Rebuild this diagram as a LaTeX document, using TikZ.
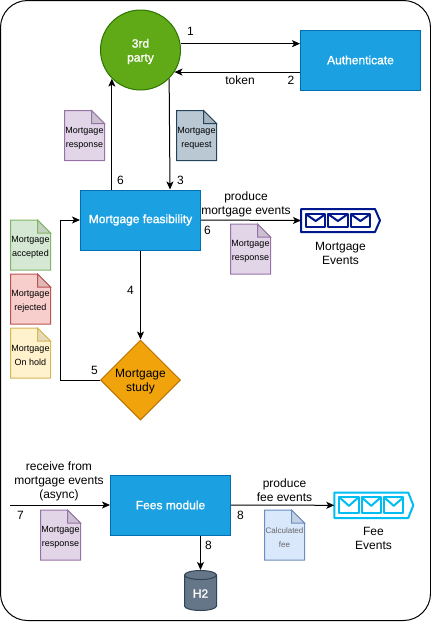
\documentclass[tikz,border=0pt]{standalone}
\usepackage{fontspec}
\setmainfont{Liberation Sans}
\newfontfamily\heavyfont[FakeBold=1.3]{Liberation Sans}
\usetikzlibrary{arrows.meta,shapes.geometric}

\definecolor{partyfill}{HTML}{60A917}
\definecolor{partyline}{HTML}{2D7600}
\definecolor{boxfill}{HTML}{1BA1E2}
\definecolor{boxline}{HTML}{006EAF}
\definecolor{studyfill}{HTML}{F0A30A}
\definecolor{studyline}{HTML}{BD7000}
\definecolor{dbfill}{HTML}{647687}
\definecolor{dbline}{HTML}{314354}
\definecolor{purplefill}{HTML}{E1D5E7}
\definecolor{purpleline}{HTML}{9673A6}
\definecolor{slatefill}{HTML}{BAC8D3}
\definecolor{slateline}{HTML}{23445D}
\definecolor{greenfill}{HTML}{D5E8D4}
\definecolor{greenline}{HTML}{82B366}
\definecolor{redfill}{HTML}{F8CECC}
\definecolor{redline}{HTML}{B85450}
\definecolor{yellowfill}{HTML}{FFF2CC}
\definecolor{yellowline}{HTML}{D6B656}
\definecolor{bluefill}{HTML}{DAE8FC}
\definecolor{blueline}{HTML}{6C8EBF}
\definecolor{navyqueue}{HTML}{00188D}
\definecolor{azurequeue}{HTML}{00BEF2}

\tikzset{
    flow/.style={line width=1pt,-{Stealth[length=8pt,width=7pt,inset=2pt]}},
    bluebox/.style={draw=boxline,fill=boxfill,line width=1pt,text=white,minimum width=120pt,minimum height=60pt,inner sep=0pt,font=\fontsize{12}{14}\selectfont\heavyfont},
    caption/.style={inner sep=0pt,align=center,font=\fontsize{12}{14}\selectfont},
    doctext/.style={inner sep=0pt,align=center,font=\fontsize{9}{14}\selectfont},
}

\newcommand{\docnote}[5]{
    \begin{scope}[shift={(#2)}]
        \filldraw[fill=#3,draw=#4,line width=1pt] (-20,-25) -- (7,-25) -- (20,-12) -- (20,25) -- (-20,25) -- cycle;
        \filldraw[fill=#3!90!black,draw=#4,line width=1pt] (7,-25) -- (7,-12) -- (20,-12) -- cycle;
        \node[doctext] (#1) at (0,2.5) {#5};
    \end{scope}
}

\newcommand{\eventqueue}[5]{
    \begin{scope}[shift={(#2)},draw=#3,line width=2pt,line join=round]
        \node[minimum width=79pt,minimum height=2*#4 pt,inner sep=0pt,anchor=west,line width=0pt] (#1) at (0,0) {};
        \draw (0,-#4) -- (74,-#4) -- (79,0) -- (74,#4) -- (0,#4) -- cycle;
        \foreach \ex in {5,27.3,49.8} {
            \draw (\ex,-#5) rectangle (\ex+19.3,#5);
            \draw (\ex,-#5) -- (\ex+9.65,0.5) -- (\ex+19.3,-#5);
        }
    \end{scope}
}

\begin{document}
\begin{tikzpicture}[x=1pt,y=-1pt]
    \useasboundingbox (0,0) rectangle (431,622);
    \draw[line width=1pt,rounded corners=27pt] (0.5,0.5) rectangle (430.5,620.5);

    \node[circle,draw=partyline,fill=partyfill,line width=1pt,minimum size=80pt,inner sep=0pt] (party) at (140.5,50) {};
    \node[bluebox] (auth) at (360.5,60) {Authenticate};
    \node[bluebox] (feas) at (140.5,220) {Mortgage feasibility};
    \node[diamond,draw=studyline,fill=studyfill,line width=1pt,minimum width=80pt,minimum height=80pt,inner sep=0pt] (study) at (140.5,380) {};
    \node[bluebox] (fees) at (170.5,505) {Fees module};

    \filldraw[draw=dbline,fill=dbfill,line width=1pt] (184.5,575) arc[start angle=180,end angle=0,x radius=16pt,y radius=4.5pt] -- (216.5,606) arc[start angle=0,end angle=-180,x radius=16pt,y radius=4.5pt] -- cycle;
    \draw[dbline,line width=1pt] (184.5,575) arc[start angle=180,end angle=360,x radius=16pt,y radius=4.5pt];
    \node[minimum width=32pt,minimum height=41pt,inner sep=0pt,line width=0pt] (store) at (200.5,590.5) {};

    \node[caption,text=white,font=\fontsize{12}{14}\selectfont\heavyfont] (partytext) at (140.5,51.5) {3rd\\party};
    \node[caption] (studytext) at (140.5,381.5) {Mortgage\\study};
    \node[caption,text=white,font=\fontsize{12}{14}\selectfont\heavyfont] (storetext) at (200.5,593.5) {H2};

    \eventqueue{mortgageq}{301,220.5}{navyqueue}{11.5}{6.3}
    \eventqueue{feeq}{334.3,505.3}{azurequeue}{12.7}{8}

    \docnote{respup}{84.5,135.5}{purplefill}{purpleline}{Mortgage\\response}
    \docnote{requp}{196.5,135.5}{slatefill}{slateline}{Mortgage\\request}
    \docnote{respright}{250.5,249}{purplefill}{purpleline}{Mortgage\\response}
    \docnote{accepted}{30.5,245}{greenfill}{greenline}{Mortgage\\accepted}
    \docnote{rejected}{30.5,299}{redfill}{redline}{Mortgage\\rejected}
    \docnote{onhold}{30.5,353}{yellowfill}{yellowline}{Mortgage\\On hold}
    \docnote{respfees}{60.5,535}{purplefill}{purpleline}{Mortgage\\response}
    \docnote{calcfee}{284.5,535}{bluefill}{blueline}{\color{black!60}\fontsize{8}{14}\selectfont Calculated\\\color{black!60}\fontsize{8}{14}\selectfont fee}

    \coordinate (loopback) at (60.5,380);
    \coordinate (feesin) at (10,505);

    \draw[flow] (party.9) -- (party.9 -| auth.west);
    \draw[flow] (auth.west |- party.-33) -- (party.-33);
    \draw[flow] (party.-135 |- feas.north) -- (party.-135);
    \draw[flow] (party.-45) -- ([xshift=29.5pt]feas.north);
    \draw[flow] (feas.east) -- (mortgageq.west);
    \draw[flow] (feas.south) -- (study.north);
    \draw[flow] (study.west) -- (loopback) |- (feas.west);
    \draw[flow] (feesin) -- (fees.west);
    \draw[flow] (fees.east) -- (feeq.west);
    \draw[flow] (store.north |- fees.south) -- (store.north);

    \node[caption] (numa) at (190.5,31) {1};
    \node[caption] (numb) at (291,80.5) {2};
    \node[caption] (tokentext) at (240,80.5) {token};
    \node[caption] (numc) at (120.5,180.5) {6};
    \node[caption] (numd) at (180.5,180.5) {3};
    \node[caption] (nume) at (207.5,230.5) {6};
    \node[caption] (numf) at (130.5,290.5) {4};
    \node[caption] (numg) at (94.5,370.5) {5};
    \node[caption] (numh) at (20.5,515.5) {7};
    \node[caption] (numi) at (208.5,545.5) {8};
    \node[caption] (numj) at (240.5,515.5) {8};
    \node[caption] (producem) at (246,204.5) {produce\\mortgage events};
    \node[caption] (mortgageqtext) at (340.5,253.5) {Mortgage\\Events};
    \node[caption] (receivetext) at (59,481.5) {receive from\\mortgage events\\(async)};
    \node[caption] (producef) at (284.5,490.5) {produce\\fee events};
    \node[caption] (feeqtext) at (373.5,538.5) {Fee\\Events};
\end{tikzpicture}
\end{document}
